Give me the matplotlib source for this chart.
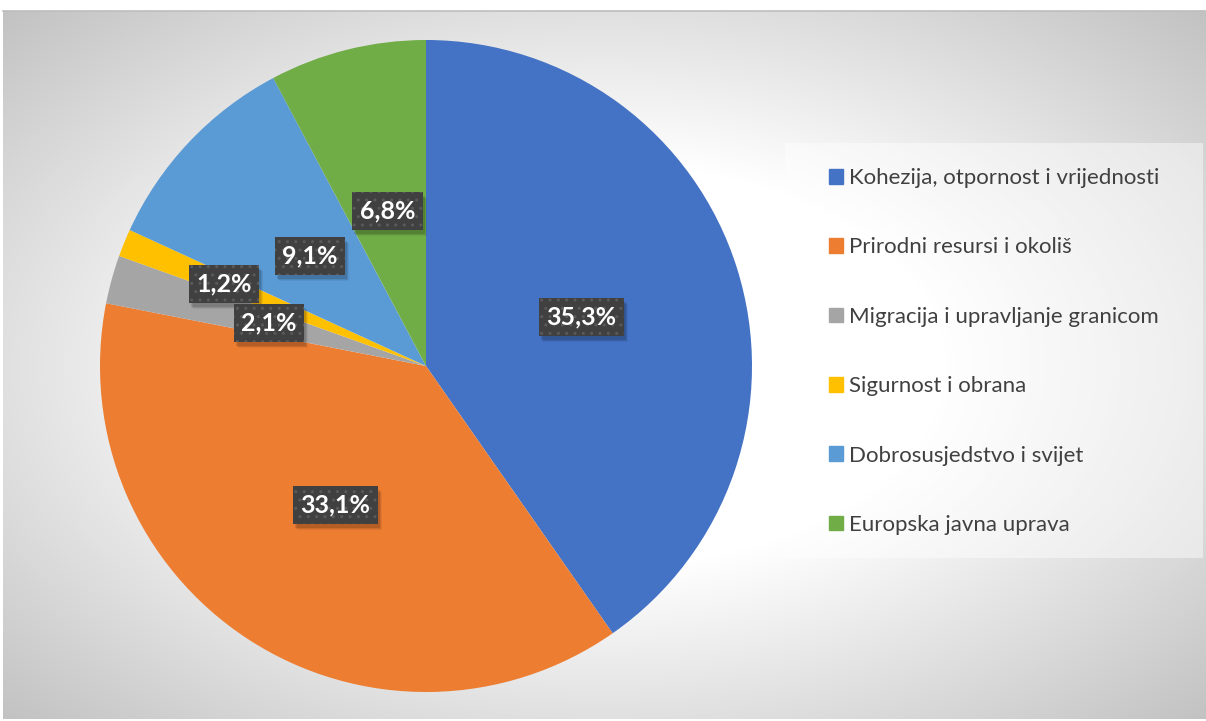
import numpy as np
import matplotlib.pyplot as plt
import matplotlib.patches as mpatches
from matplotlib.transforms import IdentityTransform

plt.rcParams['font.family'] = ['Lato', 'DejaVu Sans']
plt.rcParams['hatch.linewidth'] = 1.0

categories = ['Kohezija, otpornost i vrijednosti', 'Prirodni resursi i okoliš',
              'Migracija i upravljanje granicom', 'Sigurnost i obrana',
              'Dobrosusjedstvo i svijet', 'Europska javna uprava']
shares = [35.3, 33.1, 2.1, 1.2, 9.1, 6.8]
colors = ['#4472C4', '#ED7D31', '#A5A5A5', '#FFC000', '#5B9BD5', '#70AD47']
label_dist = [0.5, 0.51, 0.5, 0.67, 0.49, 0.49]

W, H = 1206, 721
fig = plt.figure(figsize=(W / 100, H / 100), dpi=100)
fig.patch.set_facecolor('white')

# background with radial gradient
bg = fig.add_axes([3 / W, 2 / H, 1203 / W, 708 / H])
yy, xx = np.mgrid[0:708, 0:1203]
dx = (xx - 601) / 601
dy = (yy - 354) / 354
r = np.sqrt(dx ** 2 + dy ** 2) / np.sqrt(2)
g = np.clip(296 - 100 * r * 1.02, 0, 255) / 255
bg.imshow(np.dstack([g, g, g]), aspect='auto', extent=(0, 1, 0, 1))
bg.set_axis_off()
fig.add_artist(plt.Line2D([3 / W, 1], [(H - 10.5) / H, (H - 10.5) / H], color='#bdbdbd', lw=1.2))

# legend panel
fig.add_artist(mpatches.Rectangle((785 / W, (H - 558) / H), 418 / W, 415 / H,
                                  transform=fig.transFigure, facecolor='white', alpha=0.45,
                                  edgecolor='none'))

ax = fig.add_axes([(426 - 326) / W, (H - 366 - 326) / H, 652 / W, 652 / H])
wedges, _ = ax.pie(shares, colors=colors, startangle=90, counterclock=False, radius=1)
ax.set_xlim(-1, 1)
ax.set_ylim(-1, 1)

labels = []
for w, v, d in zip(wedges, shares, label_dist):
    ang = np.deg2rad((w.theta1 + w.theta2) / 2)
    t = ax.text(d * np.cos(ang), d * np.sin(ang), f'{v:.1f}%'.replace('.', ','),
                ha='center', va='center', fontsize=18, fontweight='bold', color='white',
                zorder=5,
                bbox=dict(boxstyle='square,pad=0.3', facecolor='#404040',
                          edgecolor='#5a5a5a', linewidth=0, hatch='..'))
    labels.append(t)

# soft drop shadow behind each label box
fig.canvas.draw()
for t in labels:
    bb = t.get_bbox_patch().get_window_extent()
    for k, a in [(5, 0.06), (4, 0.08), (3, 0.12)]:
        ax.add_patch(mpatches.Rectangle((bb.x0 + k - 1, bb.y0 - k - 1), bb.width, bb.height,
                                        transform=IdentityTransform(), facecolor='black',
                                        alpha=a, linewidth=0, zorder=4, clip_on=False))

handles = [mpatches.Patch(color=c, label=l) for c, l in zip(colors, categories)]
fig.legend(handles=handles, loc='center left', bbox_to_anchor=(829 / W, (H - 351.5) / H),
           frameon=False, fontsize=16, labelcolor='#404040', borderpad=0, borderaxespad=0,
           handlelength=0.63, handleheight=0.63, handletextpad=0.28, labelspacing=2.22)

plt.savefig('out.png', dpi=100)
